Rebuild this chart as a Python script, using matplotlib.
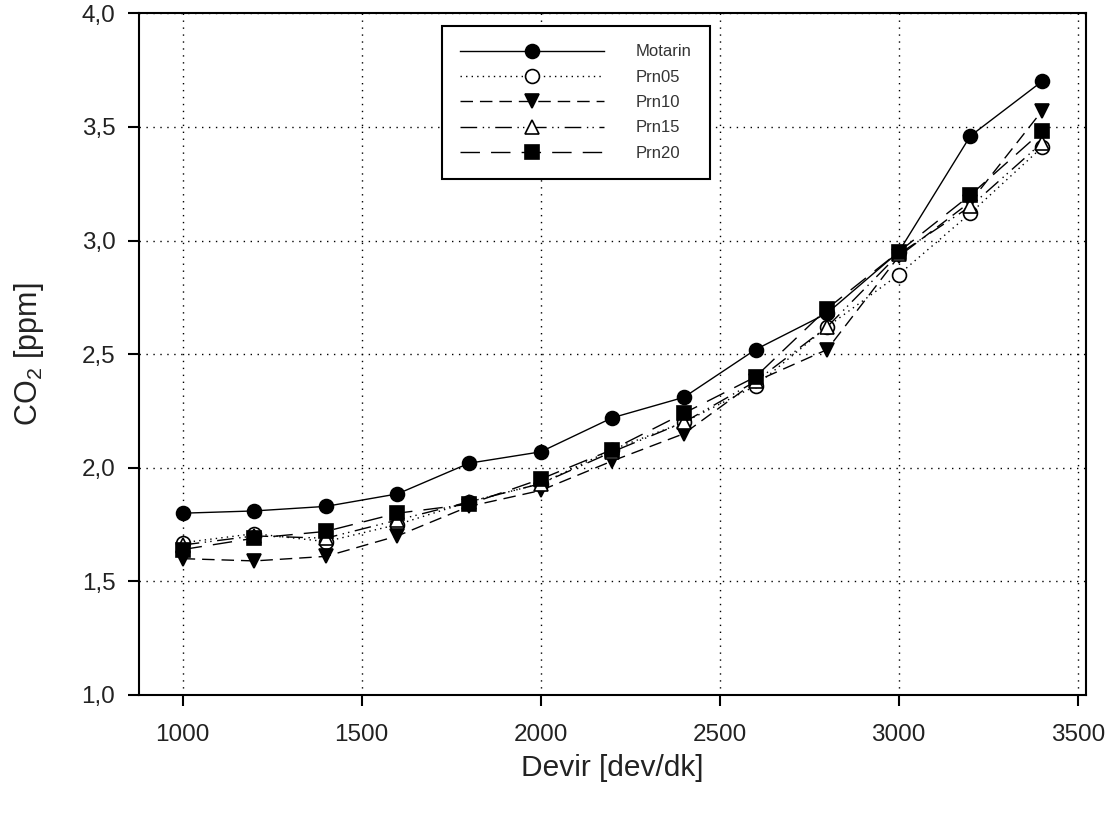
import numpy as np
import matplotlib
matplotlib.use('Agg')
import matplotlib.pyplot as plt

# engine speed [rpm] and CO2 readings for each fuel blend
devir = [1000, 1200, 1400, 1600, 1800, 2000, 2200, 2400, 2600, 2800, 3000, 3200, 3400]
motarin = [1.80, 1.81, 1.83, 1.885, 2.02, 2.07, 2.22, 2.31, 2.52, 2.68, 2.95, 3.46, 3.70]
prn05 = [1.67, 1.71, 1.675, 1.75, 1.85, 1.93, 2.08, 2.20, 2.36, 2.62, 2.85, 3.12, 3.41]
prn10 = [1.60, 1.59, 1.61, 1.70, 1.83, 1.90, 2.03, 2.15, 2.38, 2.52, 2.93, 3.17, 3.57]
prn15 = [1.66, 1.70, 1.69, 1.77, 1.85, 1.93, 2.07, 2.20, 2.38, 2.62, 2.94, 3.15, 3.43]
prn20 = [1.64, 1.69, 1.72, 1.80, 1.84, 1.95, 2.08, 2.24, 2.40, 2.70, 2.95, 3.20, 3.48]

xticks = [1000, 1500, 2000, 2500, 3000, 3500]
yticks = [1.0, 1.5, 2.0, 2.5, 3.0, 3.5, 4.0]
ytick_labels = ['1,0', '1,5', '2,0', '2,5', '3,0', '3,5', '4,0']

plt.rcParams['font.family'] = ['Liberation Sans', 'DejaVu Sans']
plt.rcParams['mathtext.fontset'] = 'custom'
plt.rcParams['mathtext.rm'] = 'Liberation Sans'
txtcol = '#222222'

fig = plt.figure(figsize=(11.19, 8.14), dpi=100)
ax = fig.add_axes([0.1242, 0.1462, 0.8463, 0.8375])

lw = 1.0
ms = 10
series = [
  ('Motarin', motarin, '-', 'o', 'k'),
  ('Prn05', prn05, (0, (1, 3)), 'o', 'w'),
  ('Prn10', prn10, (0, (9, 5)), 'v', 'k'),
  ('Prn15', prn15, (0, (12, 4, 1, 3, 1, 4)), '^', 'w'),
  ('Prn20', prn20, (0, (14, 8)), 's', 'k'),
]
for name, vals, ls, mk, fc in series:
  ax.plot(devir, vals, linestyle=ls, color='k', linewidth=lw, marker=mk,
          markersize=ms, markerfacecolor=fc, markeredgecolor='k',
          markeredgewidth=1.2, label=name, zorder=3)

ax.set_xlim(878, 3523)
ax.set_ylim(1.0, 4.0)
ax.set_xticks(xticks)
ax.set_yticks(yticks)
ax.set_yticklabels(ytick_labels)
ax.grid(True, color='k', linestyle=(0, (1, 4)), linewidth=1.0, zorder=1)

ax.tick_params(axis='both', direction='out', length=8, width=1.5,
               labelsize=17.5, labelcolor=txtcol)
ax.tick_params(axis='x', pad=13)
ax.tick_params(axis='y', pad=9)
for sp in ax.spines.values():
  sp.set_linewidth(1.5)

ax.set_xlabel('Devir [dev/dk]', fontsize=21.5, labelpad=6, color=txtcol)
ax.set_ylabel(r'CO$_\mathregular{2}$ [ppm]', fontsize=22, labelpad=26, color=txtcol)

leg = ax.legend(loc='upper left', bbox_to_anchor=(442/1119, 1-26/814),
                bbox_transform=fig.transFigure, borderaxespad=0,
                fontsize=12, handlelength=8.6, handletextpad=1.9,
                labelspacing=0.62, borderpad=1.1, numpoints=1,
                fancybox=False, framealpha=1, edgecolor='k')
leg.get_frame().set_linewidth(1.5)
for t in leg.get_texts():
  t.set_color('#333333')

plt.savefig('out.png', dpi=100)
